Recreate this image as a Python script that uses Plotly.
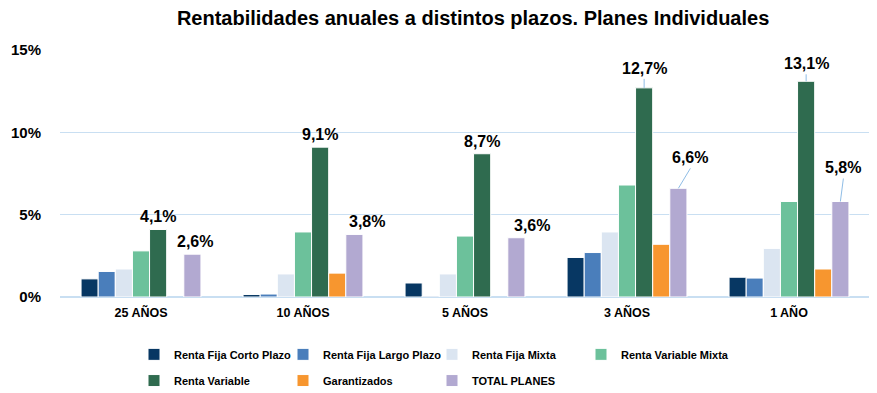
import plotly.graph_objects as go

categories = ["25 AÑOS", "10 AÑOS", "5 AÑOS", "3 AÑOS", "1 AÑO"]
series_names = ["Renta Fija Corto Plazo", "Renta Fija Largo Plazo", "Renta Fija Mixta",
                "Renta Variable Mixta", "Renta Variable", "Garantizados", "TOTAL PLANES"]
rf_corto = [1.1, 0.15, 0.85, 2.4, 1.2]
rf_largo = [1.55, 0.18, 0.05, 2.7, 1.15]
rf_mixta = [1.7, 1.4, 1.4, 3.95, 2.95]
rv_mixta = [2.8, 3.95, 3.7, 6.8, 5.8]
renta_variable = [4.1, 9.1, 8.7, 12.7, 13.1]
garantizados = [None, 1.45, None, 3.2, 1.7]
total_planes = [2.6, 3.8, 3.6, 6.6, 5.8]
y_ticks = [0, 5, 10, 15]
y_tick_labels = ["0%", "5%", "10%", "15%"]

colors = ["#073763", "#4a7ebb", "#dbe5f1", "#6cc19b", "#2f6b4f", "#f7962f", "#b2a9d1"]
values = [rf_corto, rf_largo, rf_mixta, rv_mixta, renta_variable, garantizados, total_planes]

FONT = "Liberation Sans, Arial, sans-serif"
fig = go.Figure()
for i, (name, vals, col) in enumerate(zip(series_names, values, colors)):
    fig.add_trace(go.Bar(
        name=name, x=categories, y=vals, marker_color=col,
        marker_line_color="white", marker_line_width=1,
        legend="legend" if i < 4 else "legend2",
    ))

bargap = 0.26
w = (1 - bargap) / 7

def fmt(v):
    return f"{v:.1f}".replace(".", ",") + "%"

# label placements (pixel offsets from bar top centre)
rv_off = [(0, 0, False), (0, 0, False), (0, 0, False), (0, -9, True), (0, -7, True)]
tp_off = [(3, 0, False), (13, 0, False), (16, 0, False), (12, -20, True), (3, -23, True)]
annotations = []
for j, cat in enumerate(categories):
    for idx, series, offs in ((4, renta_variable, rv_off), (6, total_planes, tp_off)):
        dx, dy, arrow = offs[j]
        xpos = j + (idx - 3) * w
        if arrow:
            annotations.append(dict(
                x=xpos, y=series[j], xref="x", yref="y", text=fmt(series[j]),
                showarrow=True, arrowhead=0, arrowwidth=1, arrowcolor="#8fbde6",
                ax=dx, ay=dy, yanchor="bottom", standoff=0,
                font=dict(family=FONT, size=16, color="black", weight="bold")))
        else:
            annotations.append(dict(
                x=xpos, y=series[j], xref="x", yref="y", text=fmt(series[j]),
                showarrow=False, xshift=dx, yshift=2, yanchor="bottom",
                font=dict(family=FONT, size=16, color="black", weight="bold")))

legend_font = dict(family=FONT, size=11, color="black", weight="bold")
fig.update_layout(
    width=869, height=385,
    margin=dict(l=52, r=7, t=42, b=96, autoexpand=False),
    paper_bgcolor="white", plot_bgcolor="white",
    barmode="group", bargap=bargap, bargroupgap=0,
    separators=",.",
    title=dict(text="Rentabilidades anuales a distintos plazos. Planes Individuales",
               x=0.51, xref="paper", xanchor="center", y=0.974, yref="container", yanchor="middle",
               font=dict(family=FONT, size=20, color="black", weight="bold")),
    xaxis=dict(type="category", showgrid=False, showline=False, ticks="", automargin=False,
               ticklabelstandoff=6,
               tickfont=dict(family=FONT, size=12.5, color="black", weight="bold")),
    yaxis=dict(range=[0, 15], tickmode="array", tickvals=y_ticks, ticktext=y_tick_labels,
               showgrid=True, automargin=False,
               gridcolor="#c9dff2", gridwidth=1, zeroline=True, zerolinecolor="#c9dff2",
               zerolinewidth=1.5, ticklabelstandoff=18,
               tickfont=dict(family=FONT, size=15, color="black", weight="bold")),
    legend=dict(orientation="h", x=0.145, xref="container", xanchor="left",
                y=0.138, yref="container", yanchor="top",
                entrywidth=104, font=legend_font, bgcolor="rgba(0,0,0,0)"),
    legend2=dict(orientation="h", x=0.145, xref="container", xanchor="left",
                 y=0.070, yref="container", yanchor="top",
                 entrywidth=104, font=legend_font, bgcolor="rgba(0,0,0,0)"),
    annotations=annotations,
)

fig.write_html("out.html")
